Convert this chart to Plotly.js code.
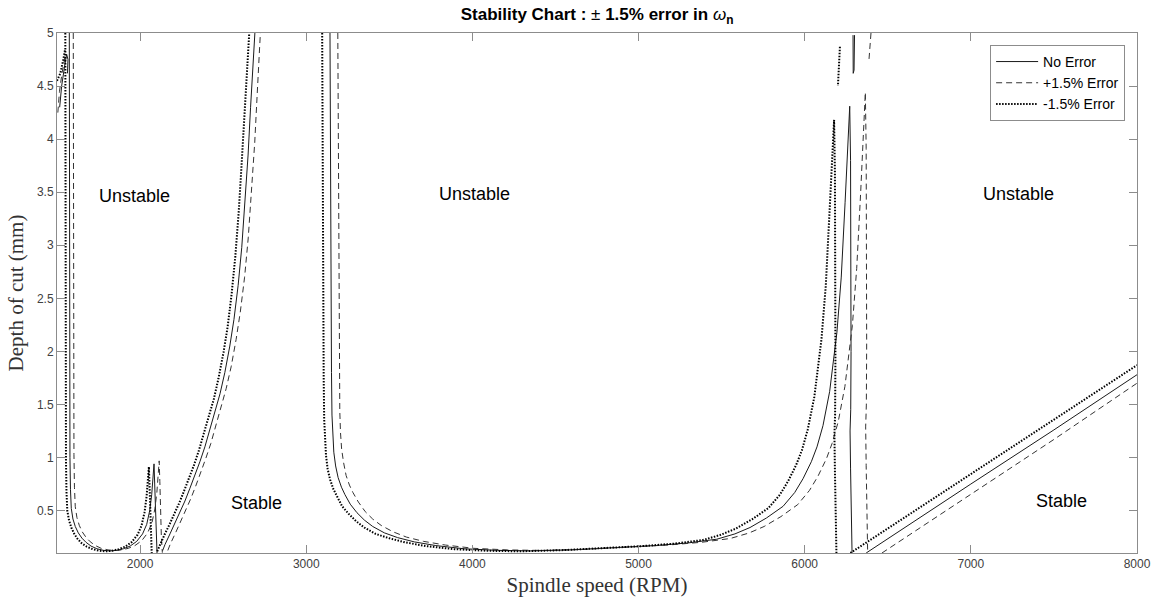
<!DOCTYPE html>
<html>
<head>
<meta charset="utf-8">
<script src="https://cdn.plot.ly/plotly-3.0.1.min.js"></script>
<style>html,body{margin:0;padding:0;background:#fff;}#chart{width:1158px;height:600px;}</style>
</head>
<body>
<div id="chart"></div>
<script>
// ---- Data (spindle speed in RPM, depth of cut in mm) ----
// null separates disconnected branches of the same stability boundary
const noErrorRpm = [
  1516,1528,1545,1558,1566,1563, null,
  1574,1574,1575,1576,1578,1581,1586,1596,1610,1628,1650,1675,1705,1740,1780,1820,1860,1900,1940,1980,2015,2040,2058,2070,2079,2084,2088,2092,2097,2102, null,
  2135,2150,2180,2210,2240,2270,2300,2330,2360,2390,2420,2450,2481,2510,2540,2565,2590,2612,2632,2650,2665,2680,2691, null,
  3143,3146,3149,3152,3155,3159,3166,3177,3192,3212,3233,3265,3305,3350,3400,3470,3550,3650,3780,3950,4150,4350,4600,4850,5100,5300,5471,5580,5671,5770,5870,5940,5990,6040,6074,6110,6150,6194,6220,6243,6260,6271,
  6276,6279,6279,6277,6273,6276,6280,6285, null,
  6291,6290,6292,6297,6298,6300, null,
  6370,6600,7000,7500,8000
];
const noErrorDepth = [
  4.30,4.50,4.68,4.80,4.75,4.62, null,
  5.0,3.0,2.0,1.5,1.0,0.70,0.52,0.42,0.35,0.29,0.24,0.20,0.165,0.14,0.125,0.12,0.125,0.14,0.165,0.21,0.28,0.37,0.50,0.65,0.82,0.94,0.75,0.50,0.25,0.10, null,
  0.12,0.18,0.28,0.38,0.48,0.59,0.71,0.83,0.96,1.10,1.26,1.42,1.60,1.80,2.05,2.30,2.62,2.98,3.40,3.85,4.30,4.72,5.0, null,
  5.0,3.5,2.5,1.8,1.4,1.2,1.05,0.92,0.81,0.72,0.65,0.56,0.48,0.41,0.35,0.29,0.245,0.205,0.17,0.14,0.125,0.12,0.13,0.15,0.17,0.195,0.23,0.28,0.34,0.43,0.54,0.67,0.80,0.96,1.10,1.30,1.62,2.18,2.70,3.40,3.90,4.31,
  3.80,3.00,2.00,1.45,1.25,0.90,0.50,0.10, null,
  4.98,4.75,4.62,4.65,4.85,4.98, null,
  0.10,0.34,0.75,1.26,1.78
];

const plusErrRpm = [
  1505,1515,1530,1548,1560, null,
  1598,1598,1599,1600,1602,1605,1610,1620,1634,1652,1675,1700,1731,1766,1807,1847,1888,1929,1969,2010,2045,2071,2089,2101,2110,2115,2119,2123,2128,2134, null,
  2167,2182,2213,2243,2274,2304,2335,2365,2395,2426,2456,2487,2518,2548,2578,2603,2629,2651,2671,2690,2705,2720,2724, null,
  3190,3193,3196,3199,3202,3206,3213,3225,3240,3260,3281,3314,3355,3400,3451,3522,3603,3705,3837,4009,4212,4415,4669,4923,5177,5380,5553,5664,5756,5857,5958,6029,6080,6131,6165,6202,6242,6287,6313,6337,6354,6365,
  6370,6373,6373,6371,6367,6370,6374,6379, null,
  6399,6393,6387, null,
  6465,6600,7000,7500,8000
];
const plusErrDepth = [
  4.25,4.45,4.62,4.77,4.80, null,
  5.0,3.09,2.06,1.545,1.03,0.72,0.536,0.433,0.361,0.299,0.247,0.206,0.17,0.144,0.129,0.124,0.129,0.144,0.17,0.216,0.288,0.381,0.515,0.67,0.845,0.968,0.773,0.515,0.258,0.103, null,
  0.124,0.185,0.288,0.391,0.494,0.608,0.731,0.855,0.989,1.133,1.298,1.463,1.648,1.854,2.112,2.369,2.699,3.069,3.502,3.966,4.429,4.862,5.0, null,
  5.0,3.61,2.58,1.85,1.44,1.24,1.08,0.95,0.83,0.74,0.67,0.58,0.49,0.42,0.36,0.30,0.25,0.21,0.175,0.144,0.129,0.124,0.134,0.155,0.175,0.201,0.237,0.288,0.35,0.443,0.556,0.69,0.824,0.989,1.133,1.339,1.669,2.245,2.781,3.502,4.017,4.441,
  3.914,3.09,2.06,1.494,1.288,0.927,0.515,0.103, null,
  5.0,4.85,4.75, null,
  0.10,0.24,0.65,1.17,1.70
];

const minusErrRpm = [
  1500,1520,1538,1548, null,
  1550,1550,1551,1552,1554,1557,1562,1572,1586,1604,1625,1650,1679,1714,1753,1793,1832,1872,1911,1950,1985,2009,2027,2039,2048,2053,2057,2061,2066,2070, null,
  2103,2118,2147,2177,2206,2236,2266,2295,2325,2354,2384,2413,2444,2472,2502,2527,2551,2573,2593,2610,2625,2640,2651,2657, null,
  3096,3099,3102,3105,3108,3112,3119,3129,3144,3164,3185,3216,3255,3300,3349,3418,3497,3595,3723,3891,4088,4285,4531,4777,5024,5221,5389,5496,5586,5683,5782,5851,5900,5949,5983,6018,6058,6101,6127,6149,6166,6177,
  6182,6185,6185,6183,6179,6182,6186,6191, null,
  6212,6208,6204,6200, null,
  6275,6600,7000,7500,8000
];
const minusErrDepth = [
  4.55,4.62,4.75,4.84, null,
  5.0,2.91,1.94,1.46,0.97,0.68,0.50,0.41,0.34,0.28,0.23,0.19,0.16,0.136,0.121,0.116,0.121,0.136,0.16,0.204,0.272,0.359,0.485,0.63,0.795,0.912,0.728,0.485,0.243,0.10, null,
  0.116,0.175,0.272,0.369,0.466,0.572,0.689,0.805,0.931,1.067,1.222,1.377,1.552,1.746,1.989,2.231,2.541,2.891,3.298,3.735,4.171,4.578,4.85,5.0, null,
  5.0,3.40,2.43,1.75,1.36,1.16,1.02,0.89,0.79,0.70,0.63,0.54,0.47,0.40,0.34,0.28,0.24,0.20,0.165,0.136,0.121,0.116,0.126,0.146,0.165,0.189,0.223,0.272,0.33,0.417,0.524,0.65,0.776,0.931,1.067,1.261,1.571,2.115,2.619,3.298,3.783,4.181,
  3.686,2.91,1.94,1.407,1.213,0.873,0.485,0.10, null,
  4.87,4.75,4.62,4.50, null,
  0.10,0.435,0.847,1.36,1.87
];

const seriesNames = ['No Error', '+1.5% Error', '-1.5% Error'];

const regionLabels = ['Unstable', 'Unstable', 'Unstable', 'Stable', 'Stable'];
const regionRpm    = [1969, 4010, 7284, 2698, 7543];
const regionDepth  = [3.46, 3.48, 3.48, 0.57, 0.59];

const xTickVals = [2000, 3000, 4000, 5000, 6000, 7000, 8000];
const yTickVals = [0.5, 1, 1.5, 2, 2.5, 3, 3.5, 4, 4.5, 5];

// ---- Traces ----
const traces = [
  {x: noErrorRpm, y: noErrorDepth, name: seriesNames[0], mode: 'lines', connectgaps: false,
   line: {color: '#1a1a1a', width: 1}},
  {x: plusErrRpm, y: plusErrDepth, name: seriesNames[1], mode: 'lines', connectgaps: false,
   line: {color: '#333333', width: 1, dash: '6px,4px'}},
  {x: minusErrRpm, y: minusErrDepth, name: seriesNames[2], mode: 'lines', connectgaps: false,
   line: {color: '#000000', width: 2, dash: '1.5px,1.5px'}}
];

const annotations = regionLabels.map((t, i) => ({
  x: regionRpm[i], y: regionDepth[i], xref: 'x', yref: 'y', text: t, showarrow: false,
  font: {family: 'Liberation Sans, Arial, sans-serif', size: 18, color: '#000'}
}));

const axisCommon = {
  showline: true, linecolor: '#8c8c8c', linewidth: 1, mirror: 'ticks',
  ticks: 'inside', ticklen: 8, tickcolor: '#8c8c8c', tickwidth: 1,
  showgrid: false, zeroline: false,
  tickfont: {family: 'Liberation Sans, Arial, sans-serif', size: 12, color: '#404040'}
};

const layout = {
  width: 1158, height: 600,
  margin: {l: 57, r: 21, t: 33, b: 47},
  paper_bgcolor: '#ffffff', plot_bgcolor: '#ffffff',
  title: {
    text: '<b>Stability Chart : </b>± <b>1.5% error in </b><i>ω</i><sub><b>n</b></sub>',
    font: {family: 'Liberation Sans, Arial, sans-serif', size: 17, color: '#000'},
    x: 0.5156, xanchor: 'center', y: 0.976, yanchor: 'middle'
  },
  xaxis: Object.assign({}, axisCommon, {
    range: [1500, 8000], tickvals: xTickVals,
    title: {text: 'Spindle speed (RPM)', standoff: 6,
      font: {family: 'Liberation Serif, Times New Roman, serif', size: 21, color: '#333'}}
  }),
  yaxis: Object.assign({}, axisCommon, {
    range: [0.1, 5], tickvals: yTickVals,
    title: {text: 'Depth of cut (mm)', standoff: 7,
      font: {family: 'Liberation Serif, Times New Roman, serif', size: 21, color: '#333'}}
  }),
  showlegend: true,
  legend: {
    x: 0.989, xanchor: 'right', y: 0.977, yanchor: 'top',
    bgcolor: '#ffffff', bordercolor: '#8c8c8c', borderwidth: 1,
    font: {family: 'Liberation Sans, Arial, sans-serif', size: 14, color: '#000'},
    tracegroupgap: 0, itemwidth: 42
  },
  annotations: annotations
};

Plotly.newPlot('chart', traces, layout, {displayModeBar: false, staticPlot: true});
</script>
</body>
</html>
